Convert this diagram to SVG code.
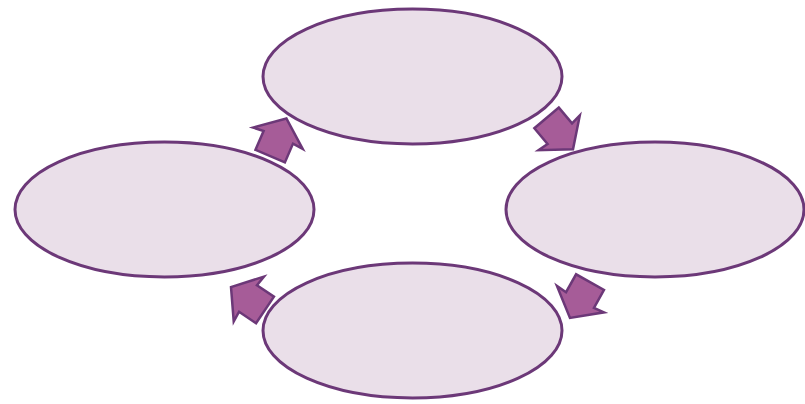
<svg xmlns="http://www.w3.org/2000/svg" width="805" height="404" viewBox="0 0 805 404">
<style>
.node{fill:#eadfe9;stroke:#6c3878;stroke-width:3}
.arr{fill:#a65c98;stroke:#6c3878;stroke-width:2.5;stroke-linejoin:miter}
</style>
<defs>
<path id="ba" d="M-20.5,-16 L0,-16 L-1,-27 L20.5,0 L-1,27 L0,16 L-20.5,16 Z"/>
</defs>
<rect width="805" height="404" fill="#ffffff"/>
<g id="connectors">
<use href="#ba" class="arr" transform="translate(278.3,137.3) rotate(-66.7)"/>
<use href="#ba" class="arr" transform="translate(559.8,133.6) rotate(49.9)"/>
<use href="#ba" class="arr" transform="translate(580,300) rotate(119.3)"/>
<use href="#ba" class="arr" transform="translate(248,298.5) rotate(-146)"/>
</g>
<g id="node-top"><ellipse class="node" cx="412.5" cy="76.5" rx="149.5" ry="67.5"/></g>
<g id="node-right"><ellipse class="node" cx="655" cy="209.5" rx="149" ry="67.5"/></g>
<g id="node-bottom"><ellipse class="node" cx="412.5" cy="330.5" rx="149.5" ry="67.5"/></g>
<g id="node-left"><ellipse class="node" cx="164.5" cy="209.5" rx="149.5" ry="67.5"/></g>
</svg>
